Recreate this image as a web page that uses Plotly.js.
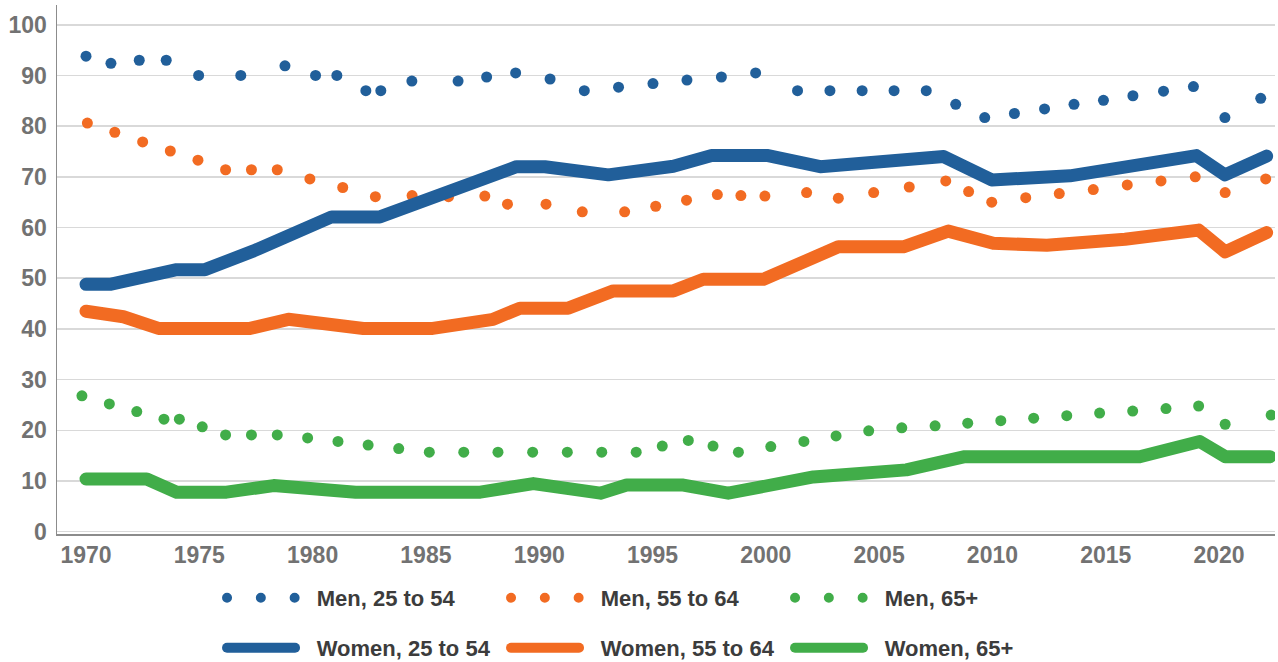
<!DOCTYPE html>
<html><head><meta charset="utf-8">
<script src="https://cdn.plot.ly/plotly-3.0.1.min.js"></script>
<style>
html,body{margin:0;padding:0;background:#fff;}
#chart{width:1278px;height:662px;}
path.js-line{stroke-linecap:round;stroke-linejoin:round;}
</style></head><body><div id="chart"></div>
<script>
// Men, 25 to 54 (dots)
const menPrimeX = [1970.0,1971.1,1972.35,1973.54,1974.97,1976.83,1978.78,1980.13,1981.07,1982.35,1983.01,1984.38,1986.42,1987.68,1988.96,1990.48,1991.99,1993.5,1995.02,1996.52,1998.04,1999.55,2001.4,2002.83,2004.25,2005.66,2007.08,2008.38,2009.66,2010.97,2012.3,2013.6,2014.9,2016.2,2017.55,2018.87,2020.26,2021.84];
const menPrimeY = [93.8,92.4,93.0,93.0,90.0,90.0,91.9,90.0,90.0,87.0,87.0,88.9,88.9,89.7,90.5,89.3,87.0,87.7,88.4,89.1,89.7,90.5,87.0,87.0,87.0,87.0,87.0,84.3,81.7,82.5,83.4,84.3,85.1,86.0,86.9,87.8,81.7,85.5];
// Men, 55 to 64 (dots)
const menOlderX = [1970.06,1971.27,1972.5,1973.72,1974.94,1976.16,1977.3,1978.44,1979.88,1981.33,1982.77,1984.39,1986.0,1987.6,1988.6,1990.3,1991.9,1993.77,1995.14,1996.5,1997.86,1998.9,1999.96,2001.8,2003.2,2004.76,2006.33,2007.94,2008.95,2009.97,2011.47,2012.95,2014.45,2015.95,2017.44,2018.95,2020.27,2022.06];
const menOlderY = [80.6,78.8,76.9,75.1,73.3,71.4,71.4,71.4,69.6,67.9,66.1,66.3,66.1,66.2,64.6,64.6,63.1,63.1,64.2,65.4,66.5,66.3,66.2,66.9,65.8,66.9,68.0,69.2,67.1,65.0,65.9,66.7,67.5,68.4,69.2,70.0,66.9,69.6];
// Men, 65+ (dots)
const menSeniorX = [1969.82,1971.03,1972.24,1973.44,1974.12,1975.13,1976.16,1977.3,1978.44,1979.78,1981.12,1982.45,1983.8,1985.15,1986.67,1988.18,1989.71,1991.24,1992.76,1994.28,1995.43,1996.58,1997.67,1998.79,2000.22,2001.68,2003.1,2004.54,2006.0,2007.47,2008.91,2010.37,2011.82,2013.28,2014.73,2016.19,2017.66,2019.1,2020.27,2022.3];
const menSeniorY = [26.8,25.2,23.7,22.2,22.2,20.7,19.1,19.1,19.1,18.5,17.8,17.1,16.4,15.7,15.7,15.7,15.7,15.7,15.7,15.7,16.9,18.0,16.9,15.7,16.8,17.8,18.9,19.9,20.5,20.9,21.4,21.9,22.4,22.9,23.4,23.8,24.3,24.8,21.2,23.0];
// Women, 25 to 54 (line)
const womenPrimeX = [1970,1971.06,1974.0,1975.25,1977.4,1980.84,1982.97,1989.0,1990.25,1993.05,1995.92,1997.61,2000.1,2002.4,2007.85,2009.97,2013.42,2019.0,2020.26,2022.1];
const womenPrimeY = [48.8,48.8,51.7,51.7,55.4,62.1,62.1,72.0,72.0,70.4,72.1,74.2,74.2,72.0,74.0,69.4,70.2,74.2,70.4,74.1];
// Women, 55 to 64 (line)
const womenOlderX = [1970,1971.65,1973.2,1977.24,1978.93,1982.24,1985.3,1987.97,1989.15,1991.28,1993.27,1995.92,1997.24,1999.9,2003.2,2006.07,2008.05,2010.04,2012.4,2015.85,2019.1,2020.27,2022.1];
const womenOlderY = [43.5,42.4,40.1,40.1,41.9,40.1,40.1,41.9,44.1,44.1,47.5,47.5,49.8,49.8,56.2,56.2,59.3,56.9,56.5,57.7,59.5,55.2,59.0];
// Women, 65+ (line)
const womenSeniorX = [1970,1972.68,1974.0,1976.2,1978.28,1981.9,1987.4,1989.74,1992.7,1993.86,1996.36,1998.34,2002.1,2006.2,2008.78,2016.5,2019.15,2020.27,2022.25];
const womenSeniorY = [10.4,10.4,7.8,7.8,9.1,7.8,7.8,9.5,7.6,9.2,9.2,7.6,10.8,12.2,14.8,14.8,17.8,14.8,14.8];

const seriesNames = ['Men, 25 to 54','Men, 55 to 64','Men, 65+','Women, 25 to 54','Women, 55 to 64','Women, 65+'];
const colors = ['#215f9a','#f26b22','#41ad49'];
const yTicks = [0,10,20,30,40,50,60,70,80,90,100];
const xTicks = [1970,1975,1980,1985,1990,1995,2000,2005,2010,2015,2020];

const menX = [menPrimeX, menOlderX, menSeniorX];
const menY = [menPrimeY, menOlderY, menSeniorY];
const womenX = [womenPrimeX, womenOlderX, womenSeniorX];
const womenY = [womenPrimeY, womenOlderY, womenSeniorY];

const pad = '\u00a0\u00a0\u2009';
const traces = [];
for (let i = 0; i < 3; i++) {
  traces.push({x: menX[i], y: menY[i], mode: 'markers', type: 'scatter',
    marker: {color: colors[i], size: 11, line: {width: 0}}, showlegend: false, hoverinfo: 'skip'});
}
for (let i = 0; i < 3; i++) {
  traces.push({x: [null], y: [null], mode: 'lines', type: 'scatter', name: pad + seriesNames[i],
    line: {color: colors[i], width: 10, dash: '0px,33.8px'}, legend: 'legend', showlegend: true});
}
for (let i = 0; i < 3; i++) {
  traces.push({x: womenX[i], y: womenY[i], mode: 'lines', type: 'scatter', name: pad + seriesNames[i + 3],
    line: {color: colors[i], width: 13}, legend: 'legend2', showlegend: true, hoverinfo: 'skip'});
}

const tickFont = {family: 'Liberation Sans, Arial, sans-serif', size: 23, color: '#727272', weight: 'bold'};
const legFont = {family: 'Liberation Sans, Arial, sans-serif', size: 22, color: '#3c3c3c', weight: 'bold'};

const legBase = {orientation: 'h', x: 0.1355, xanchor: 'left', yanchor: 'middle', itemwidth: 68, entrywidth: 201,
    font: legFont, bgcolor: 'rgba(0,0,0,0)', borderwidth: 0, traceorder: 'normal'};

const layout = {
  width: 1278, height: 662,
  margin: {l: 57, r: 3, t: 5, b: 128, autoexpand: false},
  paper_bgcolor: '#ffffff', plot_bgcolor: '#ffffff',
  hovermode: false,
  xaxis: {range: [1968.72, 2022.47], tickvals: xTicks, ticktext: xTicks.map(String), showgrid: false, zeroline: false,
    showline: true, linecolor: '#8c8c8c', linewidth: 1.5, ticks: '', tickfont: tickFont, ticklabelstandoff: 0},
  yaxis: {range: [-0.45, 103.9], tickvals: yTicks, ticktext: yTicks.map(String), showgrid: true, gridcolor: '#d9d9d9', gridwidth: 1.5,
    zeroline: false, showline: true, linecolor: '#8c8c8c', linewidth: 1.5, ticks: '', tickfont: tickFont, ticklabelstandoff: 4},
  legend: Object.assign({}, legBase, {y: -0.121}),
  legend2: Object.assign({}, legBase, {y: -0.2155}),
  showlegend: true
};

Plotly.newPlot('chart', traces, layout, {staticPlot: true, displayModeBar: false});
</script></body></html>
